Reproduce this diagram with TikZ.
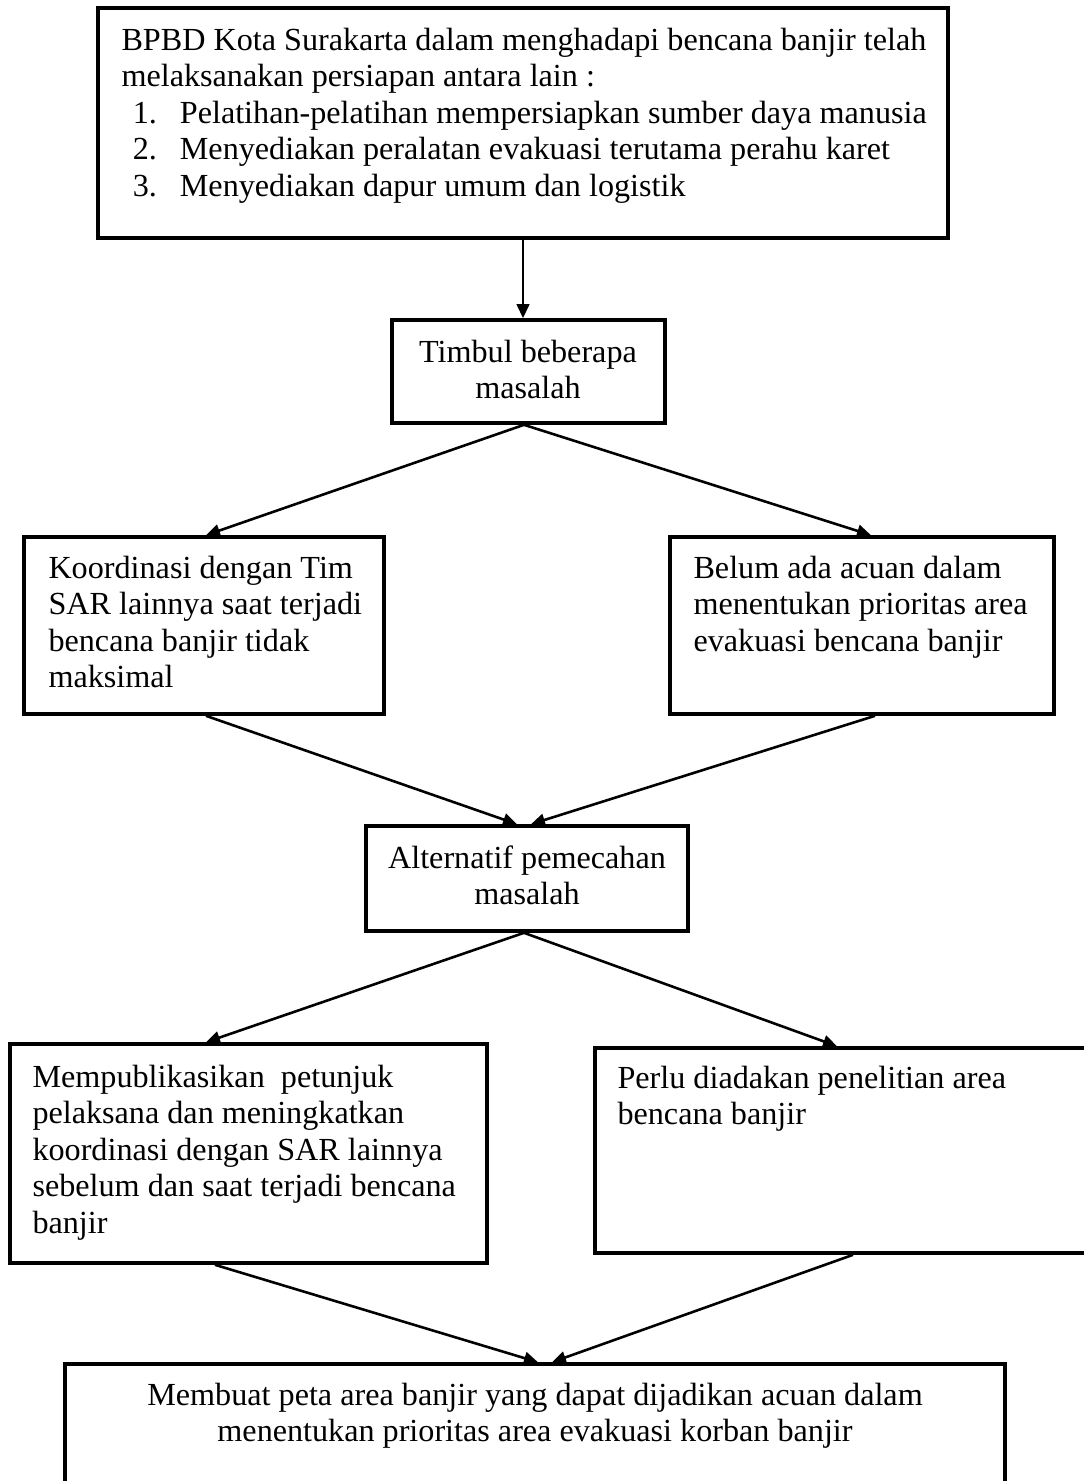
\documentclass[tikz,border=0pt]{standalone}
\usepackage{fontspec}
\setmainfont{Liberation Serif}
\usetikzlibrary{arrows.meta,calc}
\newlength\pxu
\setlength\pxu{0.387pt}
\begin{document}
\begin{tikzpicture}[x=0.387pt,y=-0.387pt,
  box/.style={draw, line width=1.4pt, rectangle, inner sep=0pt},
  txt/.style={inner sep=0pt, align=left, font=\fontsize{12.45}{14.1}\selectfont},
  ctxt/.style={inner sep=0pt, align=center, font=\fontsize{12.45}{14.1}\selectfont},
  conn/.style={line width=1pt, -{Triangle[length=5.4pt,width=4.8pt]}}]
\useasboundingbox (0,0) rectangle (1084,1481);
\clip (0,0) rectangle (1084,1481);
\fill[white] (0,0) rectangle (1084,1481);
% boxes
\node[box, minimum width=850*\pxu, minimum height=230*\pxu] (A) at (523,123) {};
\node[box, minimum width=273*\pxu, minimum height=103*\pxu] (B) at (528.5,371.5) {};
\node[box, minimum width=360*\pxu, minimum height=177*\pxu] (C) at (204,625.5) {};
\node[box, minimum width=384*\pxu, minimum height=177*\pxu] (D) at (862,625.5) {};
\node[box, minimum width=322*\pxu, minimum height=105*\pxu] (E) at (527,878.5) {};
\node[box, minimum width=477*\pxu, minimum height=219*\pxu] (F) at (248.5,1153.5) {};
\node[box, minimum width=505*\pxu, minimum height=205*\pxu] (G) at (847.5,1150.5) {};
\node[box, minimum width=940*\pxu, minimum height=156*\pxu] (H) at (535,1442) {};
% texts
\node[txt, anchor=north west] (At) at (121,24.5) {\strut BPBD Kota Surakarta dalam menghadapi bencana banjir telah\\
melaksanakan persiapan antara lain :\\
\hspace*{4.4pt}\makebox[18.2pt][l]{1.}Pelatihan-pelatihan mempersiapkan sumber daya manusia\\
\hspace*{4.4pt}\makebox[18.2pt][l]{2.}Menyediakan peralatan evakuasi terutama perahu karet\\
\hspace*{4.4pt}\makebox[18.2pt][l]{3.}Menyediakan dapur umum dan logistik};
\node[ctxt, anchor=north] (Bt) at (528,336.5) {\strut Timbul beberapa\\ masalah};
\node[txt, anchor=north west] (Ct) at (48,552.5) {\strut Koordinasi dengan Tim\\ SAR lainnya saat terjadi\\ bencana banjir tidak\\ maksimal};
\node[txt, anchor=north west] (Dt) at (693,552.5) {\strut Belum ada acuan dalam\\ menentukan prioritas area\\ evakuasi bencana banjir};
\node[ctxt, anchor=north] (Et) at (527,842.5) {\strut Alternatif pemecahan\\ masalah};
\node[txt, anchor=north west] (Ft) at (32,1061.5) {\strut Mempublikasikan\ \ petunjuk\\ pelaksana dan meningkatkan\\ koordinasi dengan SAR lainnya\\ sebelum dan saat terjadi bencana\\ banjir};
\node[txt, anchor=north west] (Gt) at (617,1062.5) {\strut Perlu diadakan penelitian area\\ bencana banjir};
\node[ctxt, anchor=north] (Ht) at (535,1379.5) {\strut Membuat peta area banjir yang dapat dijadikan acuan dalam\\ menentukan prioritas area evakuasi korban banjir};
% connectors
\draw[conn] (A.south) -- (A.south |- B.north);
\draw[conn] ($(B.south)+(-4.5,0)$) -- ($(C.north)+(2,0)$);
\draw[conn] ($(B.south)+(-4.5,0)$) -- ($(D.north)+(9,0)$);
\draw[conn] ($(C.south)+(2,0)$) -- ($(E.north)+(-10,0)$);
\draw[conn] ($(D.south)+(13,0)$) -- ($(E.north)+(4,0)$);
\draw[conn] ($(E.south)+(-3,0)$) -- ($(F.north)+(-42.5,0)$);
\draw[conn] ($(E.south)+(-3,0)$) -- ($(G.north)+(-10.5,0)$);
\draw[conn] ($(F.south)+(-33.5,0)$) -- ($(H.north)+(3,0)$);
\draw[conn] ($(G.south)+(5.5,0)$) -- ($(H.north)+(17,0)$);
\end{tikzpicture}
\end{document}
